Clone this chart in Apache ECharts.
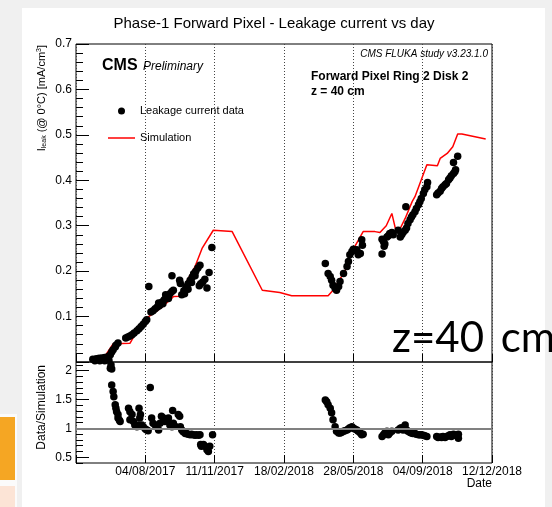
<!DOCTYPE html>
<html><head><meta charset="utf-8">
<script src="https://cdn.jsdelivr.net/npm/echarts@6/dist/echarts.min.js"></script>
<style>
html,body{margin:0;padding:0;background:#f0f0f0;width:552px;height:507px;overflow:hidden;position:relative}
#panel{position:absolute;left:22px;top:8px;width:523px;height:499px;background:#fff}
#tabw{position:absolute;left:0;top:414px;width:17px;height:93px;background:#fbfbfb}
#tabo{position:absolute;left:0;top:417px;width:15px;height:63px;background:#f5a623}
#tabp{position:absolute;left:0;top:486px;width:15px;height:21px;background:#fce4d6}
#chart{position:absolute;left:0;top:0;width:552px;height:507px}
</style></head>
<body>
<div id="panel"></div><div id="tabw"></div><div id="tabo"></div><div id="tabp"></div>
<div id="chart"></div>
<script>
// x values: days since 27/04/2017
const startDate = '2017-04-27';
const xTickLabels = ['04/08/2017','11/11/2017','18/02/2018','28/05/2018','04/09/2018','12/12/2018'];

const simDays   = [24,34,40,53,77,96,107,124,139,149,159,170,180,196,223,266,291,308,360,367,384,394,410,427,434,443,451,456,463,470,480,484,501,516,520,530,538,545,551,585];
const simValues = [0.005,0.006,0.010,0.040,0.041,0.092,0.103,0.122,0.144,0.145,0.180,0.210,0.250,0.290,0.287,0.158,0.153,0.146,0.146,0.158,0.200,0.243,0.287,0.287,0.285,0.300,0.327,0.294,0.294,0.316,0.353,0.364,0.434,0.432,0.448,0.459,0.474,0.502,0.502,0.491];

const dataDays = [24,29,33,37,41,46,49,51,53,56,57,60,71,74,77,80,83,87,90,93,96,99,101,104,107,110,113,116,119,121,123,126,129,131,134,137,139,137,148,149,151,154,157,160,163,166,168,171,174,177,176,178,181,184,187,190,194,
  118,124,128,132,155,160,165,170,
  356,360,363,365,367,370,372,375,377,382,387,389,391,394,396,401,403,406,408,409,
  437,439,441,444,446,448,451,453,437,440,
  460,463,465,467,470,471,472,474,477,479,481,484,486,489,491,493,496,498,501,502,
  515,517,520,522,524,527,529,532,534,536,539,541,542,539,545];
const dataValues = [0.006,0.007,0.008,0.009,0.010,0.012,0.016,0.022,0.027,0.033,0.037,0.042,0.053,0.055,0.057,0.060,0.064,0.069,0.073,0.078,0.083,0.089,0.093,0.166,0.110,0.113,0.117,0.121,0.124,0.128,0.132,0.137,0.142,0.146,0.150,0.155,0.158,0.190,0.180,0.173,0.148,0.157,0.165,0.172,0.180,0.187,0.194,0.200,0.207,0.213,0.168,0.172,0.176,0.182,0.163,0.197,0.252,
  0.130,0.128,0.148,0.140,0.150,0.160,0.175,0.190,
  0.217,0.195,0.188,0.180,0.169,0.162,0.158,0.166,0.177,0.195,0.210,0.221,0.236,0.243,0.248,0.247,0.236,0.239,0.269,0.257,
  0.270,0.265,0.260,0.275,0.278,0.283,0.285,0.280,0.238,0.255,
  0.290,0.275,0.280,0.285,0.290,0.342,0.295,0.305,0.313,0.319,0.324,0.331,0.338,0.346,0.353,0.360,0.371,0.379,0.386,0.395,
  0.368,0.372,0.376,0.382,0.386,0.390,0.393,0.401,0.405,0.410,0.415,0.419,0.423,0.439,0.453];

const ratioDays = [27,34,41,47,49,50,51,51,53,54,56,57,58,60,60,62,63,75,77,80,77,82,84,87,89,91,90,92,94,96,99,101,103,106,108,110,113,115,118,120,122,125,127,130,132,134,137,138,139,141,146,148,149,151,153,156,158,160,163,165,167,170,172,175,177,178,179,182,184,187,189,191,195,
  356,358,360,363,365,367,370,372,375,377,379,382,384,387,389,391,394,396,398,401,403,406,408,410,
  437,439,441,444,446,448,451,460,463,465,470,467,472,474,477,479,481,484,486,489,491,493,496,498,501,
  515,517,520,522,524,527,529,532,534,536,539,541,544,546,546];
const ratioValues = [2.17,2.17,2.17,2.18,2.04,2.10,2.03,1.75,1.64,1.55,1.41,1.35,1.29,1.24,1.18,1.14,1.12,1.35,1.29,1.24,1.15,1.12,1.06,1.03,1.06,1.18,1.35,1.24,1.06,1.03,0.99,0.97,0.96,1.71,1.18,1.09,1.06,1.03,0.97,1.09,1.21,1.18,1.12,1.15,1.18,1.06,1.03,1.31,1.09,1.04,1.24,1.21,1.03,0.97,0.94,0.91,0.91,0.90,0.89,0.90,0.89,0.88,0.89,0.88,0.89,0.72,0.69,0.72,0.69,0.63,0.60,0.69,0.89,
  1.49,1.46,1.41,1.35,1.27,1.15,1.03,0.95,0.92,0.92,0.93,0.95,0.96,0.97,0.99,1.01,1.03,1.00,0.99,0.97,0.95,0.92,0.89,0.90,
  0.86,0.89,0.92,0.95,0.89,0.92,0.95,0.97,1.00,1.01,1.06,0.97,0.97,0.95,0.93,0.92,0.91,0.91,0.90,0.89,0.89,0.89,0.88,0.87,0.86,
  0.86,0.84,0.85,0.84,0.86,0.84,0.86,0.87,0.89,0.86,0.90,0.88,0.89,0.90,0.83];

const ratioMajorTicks = [0.5, 1, 1.5, 2];

const FONT = 'Liberation Sans';
const pair = (xs, ys) => xs.map((x, i) => [x, ys[i]]);

const chart = echarts.init(document.getElementById('chart'), null, {renderer: 'canvas'});

const xAxisBase = (grid, showLabels) => ({
  type: 'value', gridIndex: grid, min: 0, max: 594, interval: 99,
  axisLine: {show: false},
  axisTick: {show: true, inside: true, length: 8, lineStyle: {color: '#000', width: 1}},
  axisLabel: {show: showLabels, margin: 3, fontFamily: FONT, fontSize: 12, color: '#000',
    formatter: v => { const i = Math.round(v / 99) - 1; return xTickLabels[i] || ''; }},
  splitLine: {show: true, lineStyle: {color: '#444', type: [1, 2], width: 1}}
});

chart.setOption({
  animation: false,
  backgroundColor: 'transparent',
  title: {
    text: 'Phase-1 Forward Pixel - Leakage current vs day',
    left: 269, top: 11, textAlign: 'center',
    textStyle: {fontFamily: FONT, fontSize: 15, fontWeight: 'normal', color: '#000'}
  },
  legend: {
    left: 108, top: 104, padding: 0, orient: 'vertical', itemWidth: 27, itemHeight: 7, itemGap: 13,
    textStyle: {fontFamily: FONT, fontSize: 11, color: '#000', lineHeight: 14},
    data: [{name: 'Leakage current data', icon: 'circle'}, {name: 'Simulation', icon: 'path://M0,0 L27,0 L27,1.5 L0,1.5 Z', itemStyle: {color: '#ff0000'}}]
  },
  grid: [
    {left: 76, top: 44, width: 416, height: 318, show: true, borderColor: '#000', borderWidth: 1, backgroundColor: 'transparent'},
    {left: 76, top: 362, width: 416, height: 101, show: true, borderColor: '#000', borderWidth: 1, backgroundColor: 'transparent'}
  ],
  xAxis: [xAxisBase(0, false), xAxisBase(1, true)],
  yAxis: [
    {type: 'value', gridIndex: 0, min: 0, max: 0.7, interval: 0.1,
      axisLine: {show: false},
      axisTick: {show: true, inside: true, length: 13, lineStyle: {color: '#000'}},
      minorTick: {show: true, splitNumber: 5, length: 7, lineStyle: {color: '#000'}},
      axisLabel: {margin: 4, fontFamily: FONT, fontSize: 12, color: '#000',
        formatter: v => v === 0 ? '' : v.toFixed(1)},
      splitLine: {show: false}},
    {type: 'value', gridIndex: 1, min: 0.4, max: 2.15,
      axisLine: {show: false},
      axisTick: {show: true, inside: true, length: 13, customValues: ratioMajorTicks, lineStyle: {color: '#000'}},
      axisLabel: {margin: 4, fontFamily: FONT, fontSize: 12, color: '#000', customValues: ratioMajorTicks},
      splitLine: {show: false}},
    {type: 'value', gridIndex: 1, min: 0.4, max: 2.15, interval: 0.1, position: 'left',
      axisLine: {show: false},
      axisTick: {show: true, inside: true, length: 7, lineStyle: {color: '#000'}},
      axisLabel: {show: false},
      splitLine: {show: false}}
  ],
  series: [
    {name: 'ref', type: 'line', xAxisIndex: 1, yAxisIndex: 1, data: [], z: 1,
      markLine: {silent: true, symbol: 'none', label: {show: false},
        lineStyle: {color: '#808080', width: 2, type: 'solid'}, data: [{yAxis: 1}]}},
    {name: 'Simulation', type: 'line', xAxisIndex: 0, yAxisIndex: 0,
      data: pair(simDays, simValues), symbol: 'none', showSymbol: false,
      lineStyle: {color: '#ff0000', width: 1.5}, itemStyle: {color: '#ff0000'}, z: 3},
    {name: 'Leakage current data', type: 'scatter', xAxisIndex: 0, yAxisIndex: 0,
      data: pair(dataDays, dataValues), symbolSize: 7.5, itemStyle: {color: '#000', opacity: 1}, z: 4},
    {name: 'ratio', type: 'scatter', xAxisIndex: 1, yAxisIndex: 1, clip: false,
      data: pair(ratioDays, ratioValues), symbolSize: 7.5, itemStyle: {color: '#000', opacity: 1}, z: 4}
  ],
  graphic: [
    {type: 'text', x: 42, y: 45, rotation: Math.PI / 2, z: 10,
      style: {text: '{a|I}{s|leak}{a| (@ 0°C) [mA/cm}{p|3}{a|]}', align: 'right', verticalAlign: 'middle',
        rich: {a: {fontFamily: FONT, fontSize: 11, fill: '#000'},
               s: {fontFamily: FONT, fontSize: 7, fill: '#000', verticalAlign: 'bottom', padding: [5, 0, 0, 0]},
               p: {fontFamily: FONT, fontSize: 7, fill: '#000', verticalAlign: 'top', padding: [0, 0, 5, 0]}}}},
    {type: 'text', x: 42, y: 365, rotation: Math.PI / 2, z: 10,
      style: {text: 'Data/Simulation', align: 'right', verticalAlign: 'middle', font: '12px "Liberation Sans"', fill: '#000'}},
    {type: 'text', x: 102, y: 66, z: 10,
      style: {text: 'CMS', verticalAlign: 'middle', font: 'bold 16px "Liberation Sans"', fill: '#000'}},
    {type: 'text', x: 143, y: 67, z: 10,
      style: {text: 'Preliminary', verticalAlign: 'middle', font: 'italic 12px "Liberation Sans"', fill: '#000'}},
    {type: 'text', x: 488, y: 54, z: 10,
      style: {text: 'CMS FLUKA study v3.23.1.0', align: 'right', verticalAlign: 'middle', font: 'italic 10px "Liberation Sans"', fill: '#000'}},
    {type: 'text', x: 311, y: 77, z: 10,
      style: {text: 'Forward Pixel Ring 2 Disk 2', verticalAlign: 'middle', font: 'bold 12px "Liberation Sans"', fill: '#000'}},
    {type: 'text', x: 311, y: 92, z: 10,
      style: {text: 'z = 40 cm', verticalAlign: 'middle', font: 'bold 12px "Liberation Sans"', fill: '#000'}},
    {type: 'text', x: 492, y: 484, z: 10,
      style: {text: 'Date', align: 'right', verticalAlign: 'middle', font: '12px "Liberation Sans"', fill: '#000'}},
    {type: 'text', x: 392, y: 338, z: 100,
      style: {text: '{a|z=40 }{c|cm}', verticalAlign: 'middle',
        rich: {a: {fontFamily: 'Lato', fontSize: 42, fill: '#000'},
               c: {fontFamily: 'Lato', fontSize: 42, fill: '#000', padding: [0, 0, 0, 6]}}}}
  ]
});
</script>
</body></html>
